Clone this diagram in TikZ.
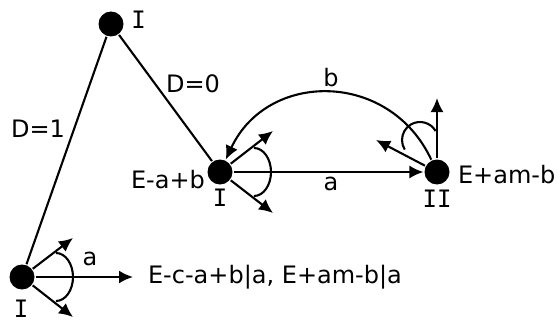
\documentclass[tikz,border=0pt]{standalone}
\usepackage{fontspec}
\setmainfont{DejaVu Sans}
\newfontfamily\romfont{DejaVu Sans Mono}
\usetikzlibrary{arrows.meta, positioning}

\begin{document}
\begin{tikzpicture}[x=0.5pt, y=0.5pt, line width=1.05pt,
    dot/.style={circle, fill=black, minimum size=12.5pt, inner sep=0pt},
    arr/.style={-{Latex[length=7pt, width=6.5pt]}},
    lbl/.style={font=\fontsize{12}{14}\selectfont, inner sep=0pt},
    num/.style={font=\fontsize{12}{14}\romfont, inner sep=0pt}]
  \useasboundingbox (0,0) rectangle (557,322);
  % states
  \node[dot] (top) at (111,298) {};
  \node[dot] (s1) at (22,45) {};
  \node[dot] (s2) at (220,150) {};
  \node[dot] (s3) at (437,150) {};
  % state labels
  \node[num] (ltop) at (138.5,302.5) {I};
  \node[num] (ls1) at (21,13.5) {I};
  \node[num] (ls2) at (220,124) {I};
  \node[num] (ls3) at (437,123) {II};
  \node[lbl, anchor=east] (vs2) at (206,142) {E-a+b};
  \node[lbl, anchor=west] (vs3) at (457,147) {E+am-b};
  \node[lbl, anchor=west, inner xsep=7pt] (res) at (133,45) {E-c-a+b|a, E+am-b|a};
  % tree
  \draw (top) -- (s1);
  \draw (top) -- (s2);
  \node[lbl] (d1) at (38,193.5) {D=1};
  \node[lbl] (d0) at (193,238.5) {D=0};
  % moves
  \coordinate (s1u) at (73,84);
  \coordinate (s1d) at (73,5);
  \coordinate (s2u) at (273,191);
  \coordinate (s2d) at (273,109);
  \coordinate (s3u) at (437,224);
  \coordinate (s3l) at (376,182);
  \draw[arr] (s1) -- (s1u);
  \draw[arr] (s1) -- (s1d);
  \draw[arr] (s1) -- (s1 -| res.west);
  \draw ([shift={(34,24)}]s1.center) arc[start angle=90, end angle=-90, x radius=17, y radius=24];
  \node[lbl] (la) at (90,63) {a};
  \draw[arr] (s2) -- (s2u);
  \draw[arr] (s2) -- (s2d);
  \draw ([shift={(34,24)}]s2.center) arc[start angle=90, end angle=-90, x radius=17, y radius=24];
  \draw[arr] (s2) -- (s3);
  \node[lbl] (ma) at (331,138) {a};
  \draw[arr] (s3) -- (s3u);
  \draw[arr] (s3) -- (s3l);
  \draw ([shift={(-1.4,41)}]s3.center) arc[start angle=30, end angle=212, radius=18];
  \draw[arr] (s3) to[out=115, in=65, looseness=1.23] (s2);
  \node[lbl] (mb) at (331,244) {b};
\end{tikzpicture}
\end{document}
